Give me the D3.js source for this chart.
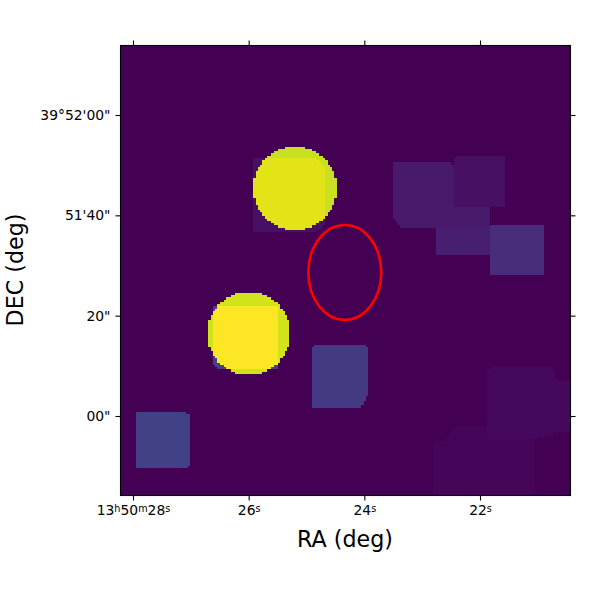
<!DOCTYPE html>
<html>
<head>
<meta charset="utf-8">
<script src="https://cdn.jsdelivr.net/npm/d3@7"></script>
<style>
  html, body { margin: 0; padding: 0; background: #fff; }
  text { font-family: "DejaVu Sans", sans-serif; fill: #000; }
</style>
</head>
<body>
<svg id="chart" width="600" height="600"></svg>
<script>
// image size in pixels, all shapes below are in image pixels (origin lower left)
var imageSize = 200;

var tileNames = ['H', 'G', 'D', 'B', 'A', 'C', 'E', 'F', 'J', 'K'];
var tileValues = [0.19, 0.17, 0.125, 0.085, 0.07, 0.04, 0.02, 0.012, 0.04, 0.19];
var tileOutlines = [
    [[7,12],[30,12],[31,13],[31,35.5],[29,36.7],[7,36.7]],
    [[85.2,38.7],[106.4,38.7],[108.7,42.2],[110,44.4],[110,65.8],[108.5,66.7],[86.7,66.7],[85.2,65.8]],
    [[164.2,98],[187.8,98],[187.8,120.2],[164.2,120.2]],
    [[140.2,107.1],[164.2,107.1],[164.2,119.2],[140.2,119.2]],
    [[124.2,119.2],[164.2,119.2],[164.2,127.6],[148.2,127.6],[148.2,146],[146.5,147.6],[121.1,147.6],[121.1,123.6]],
    [[148.2,127.6],[171.3,127.6],[171.3,150],[170,151.2],[149.5,151.2],[148.2,150]],
    [[163.3,25.3],[184.7,25.3],[192.2,27.6],[200,27.6],[200,50.7],[194,50.7],[192.2,56.9],[164.7,56.9],[163.3,55.5]],
    [[139.5,0],[184.3,0],[184.3,25.3],[163.3,25.3],[163.3,31.5],[150,31.5],[146,27],[145,24],[139.5,24]],
    [[59.3,117.3],[87,117.3],[90.9,120],[90.9,146],[87,149.8],[59.3,149.8]],
    [[41.1,58],[44,55.6],[69.6,55.6],[69.6,83.8],[41.1,83.8]]
];

var sourceX = [77.5, 57];
var sourceY = [136.5, 72];
var sourceR = [18.6, 18.4];
var sourceValues = [0.915, 0.93];

var regionX = 99.6, regionY = 98.9, regionRx = 16.2, regionRy = 21.1;

// ticks in RA seconds and DEC arcsec past 39d51m
var raTicks = [28, 26, 24, 22];
var raLabels = ['13h50m28s', '26s', '24s', '22s'];
var decTicks = [60, 40, 20, 0];
var decLabels = ['39°52\'00"', '51\'40"', '20"', '00"'];

var box = {l: 120, r: 570, t: 45, b: 495};
var svg = d3.select('#chart');

var px = d3.scaleLinear().domain([0, imageSize]).range([box.l + 0.7, box.r + 0.7]);
var py = d3.scaleLinear().domain([0, imageSize]).range([box.b, box.t]);
var ra = d3.scaleLinear().domain([28, 22]).range([133, 480]);
var dec = d3.scaleLinear().domain([60, 0]).range([115, 416]);

var color = v => d3.interpolateViridis(Math.min(v, 1));

// build the image, overlapping exposures add up
function cellValue(i, j) {
    var v = 0;
    var p = [i + 0.5, j + 0.5];
    tileOutlines.forEach((outline, k) => {
        if (d3.polygonContains(outline, p)) v += tileValues[k];
    });
    sourceX.forEach((cx, k) => {
        if (Math.hypot(p[0] - cx, p[1] - sourceY[k]) <= sourceR[k]) v += sourceValues[k];
    });
    return v;
}

var runs = [];
d3.range(imageSize).forEach(j => {
    var start = 0;
    var cur = cellValue(0, j);
    d3.range(1, imageSize + 1).forEach(i => {
        var v = i < imageSize ? cellValue(i, j) : null;
        if (v !== cur) {
            runs.push({i0: start, i1: i, j: j, v: cur});
            start = i;
            cur = v;
        }
    });
});

svg.append('g')
    .attr('shape-rendering', 'crispEdges')
    .selectAll('rect')
    .data(runs)
    .join('rect')
    .attr('x', d => px(d.i0))
    .attr('y', d => py(d.j + 1))
    .attr('width', d => Math.min(px(d.i1), box.r) - px(d.i0))
    .attr('height', d => py(d.j) - py(d.j + 1) + 0.3)
    .attr('fill', d => color(d.v));

// the image is nudged right, so cover the sliver at the left edge
svg.append('rect')
    .attr('x', box.l)
    .attr('y', box.t)
    .attr('width', 1)
    .attr('height', box.b - box.t)
    .attr('fill', color(0));

svg.append('ellipse')
    .attr('cx', px(regionX))
    .attr('cy', py(regionY))
    .attr('rx', px(regionRx) - px(0))
    .attr('ry', py(0) - py(regionRy))
    .attr('fill', 'none')
    .attr('stroke', 'red')
    .attr('stroke-width', 2.6);

svg.append('rect')
    .attr('x', box.l + 0.5)
    .attr('y', box.t + 0.5)
    .attr('width', box.r - box.l)
    .attr('height', box.b - box.t)
    .attr('fill', 'none')
    .attr('stroke', '#000')
    .attr('stroke-width', 1.1);

function styleAxis(g) {
    g.select('.domain').remove();
    g.selectAll('.tick line').attr('stroke', '#000').attr('stroke-width', 1.1);
    g.selectAll('text').style('font-size', '13.9px').style('font-family', '"DejaVu Sans", sans-serif');
}

var xBottom = svg.append('g')
    .attr('transform', 'translate(0,' + (box.b + 0.5) + ')')
    .call(d3.axisBottom(ra).tickValues(raTicks).tickSize(5).tickPadding(5)
        .tickFormat((d, i) => raLabels[i]))
    .call(styleAxis);

// h, m, s are raised like in the sexagesimal labels
xBottom.selectAll('.tick text').each(function(d, i) {
    var t = d3.select(this).text('');
    raLabels[i].match(/\d+|[a-z]/g).forEach(part => {
        var isUnit = /[a-z]/.test(part);
        t.append('tspan')
            .text(part)
            .attr('baseline-shift', isUnit ? '35%' : null)
            .style('font-size', isUnit ? '9.7px' : '13.9px');
    });
});

svg.append('g')
    .attr('transform', 'translate(0,' + (box.t + 0.5) + ')')
    .call(d3.axisTop(ra).tickValues(raTicks).tickSize(5).tickFormat(''))
    .call(styleAxis);

svg.append('g')
    .attr('transform', 'translate(' + (box.l + 0.5) + ',0)')
    .call(d3.axisLeft(dec).tickValues(decTicks).tickSize(5).tickPadding(5)
        .tickFormat((d, i) => decLabels[i]))
    .call(styleAxis);

svg.append('g')
    .attr('transform', 'translate(' + (box.r + 0.5) + ',0)')
    .call(d3.axisRight(dec).tickValues(decTicks).tickSize(5).tickFormat(''))
    .call(styleAxis);

svg.append('text')
    .attr('x', (box.l + box.r) / 2)
    .attr('y', 547)
    .attr('text-anchor', 'middle')
    .style('font-size', '22.2px')
    .text('RA (deg)');

svg.append('text')
    .attr('transform', 'translate(23,' + (box.t + box.b) / 2 + ') rotate(-90)')
    .attr('text-anchor', 'middle')
    .style('font-size', '22.2px')
    .text('DEC (deg)');
</script>
</body>
</html>
